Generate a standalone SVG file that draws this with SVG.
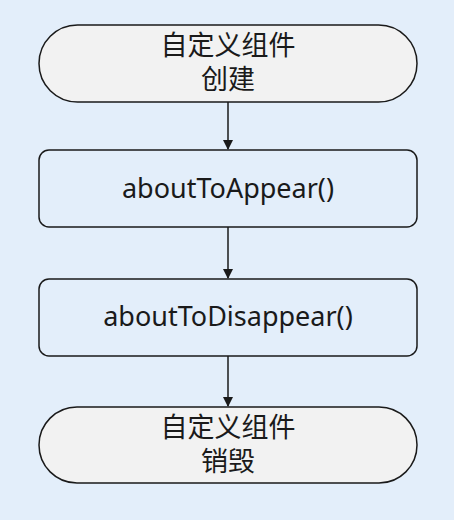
<svg xmlns="http://www.w3.org/2000/svg" width="454" height="520" viewBox="0 0 454 520">
<defs>
<style>
.term{fill:#f2f2f2;stroke:#1a1a1a;stroke-width:1.5}
.proc{fill:#e3eefa;stroke:#1a1a1a;stroke-width:1.5}
.t{font-family:"Noto Sans","Noto Sans CJK SC",sans-serif;font-size:27px;fill:#1a1a1a;text-anchor:middle}
.c{font-family:"Noto Sans CJK SC","Noto Sans",sans-serif;font-size:27px;fill:#1a1a1a;text-anchor:middle}
.e{stroke:#1a1a1a;stroke-width:1.5;fill:none}
</style>
<marker id="ah" markerWidth="10" markerHeight="10" refX="9" refY="5" orient="auto" markerUnits="userSpaceOnUse">
<path d="M0,0 L10,5 L0,10 Z" fill="#1a1a1a"/>
</marker>
</defs>
<rect width="454" height="520" fill="#e3eefa"/>
<g id="edges">
<line class="e" x1="228" y1="102" x2="228" y2="149" marker-end="url(#ah)"/>
<line class="e" x1="228" y1="227" x2="228" y2="278" marker-end="url(#ah)"/>
<line class="e" x1="228" y1="356" x2="228" y2="406" marker-end="url(#ah)"/>
</g>
<g id="start">
<rect class="term" x="39" y="25" width="378" height="77" rx="38.5"/>
<text class="c" x="228" y="55">自定义组件</text>
<text class="c" x="228" y="89">创建</text>
</g>
<g id="appear">
<rect class="proc" x="39" y="150" width="378" height="77" rx="10"/>
<text class="t" x="228" y="198">aboutToAppear()</text>
</g>
<g id="disappear">
<rect class="proc" x="39" y="279" width="378" height="77" rx="10"/>
<text class="t" x="228" y="326">aboutToDisappear()</text>
</g>
<g id="end">
<rect class="term" x="39" y="407" width="378" height="76" rx="38"/>
<text class="c" x="228" y="437">自定义组件</text>
<text class="c" x="228" y="471">销毁</text>
</g>
</svg>
